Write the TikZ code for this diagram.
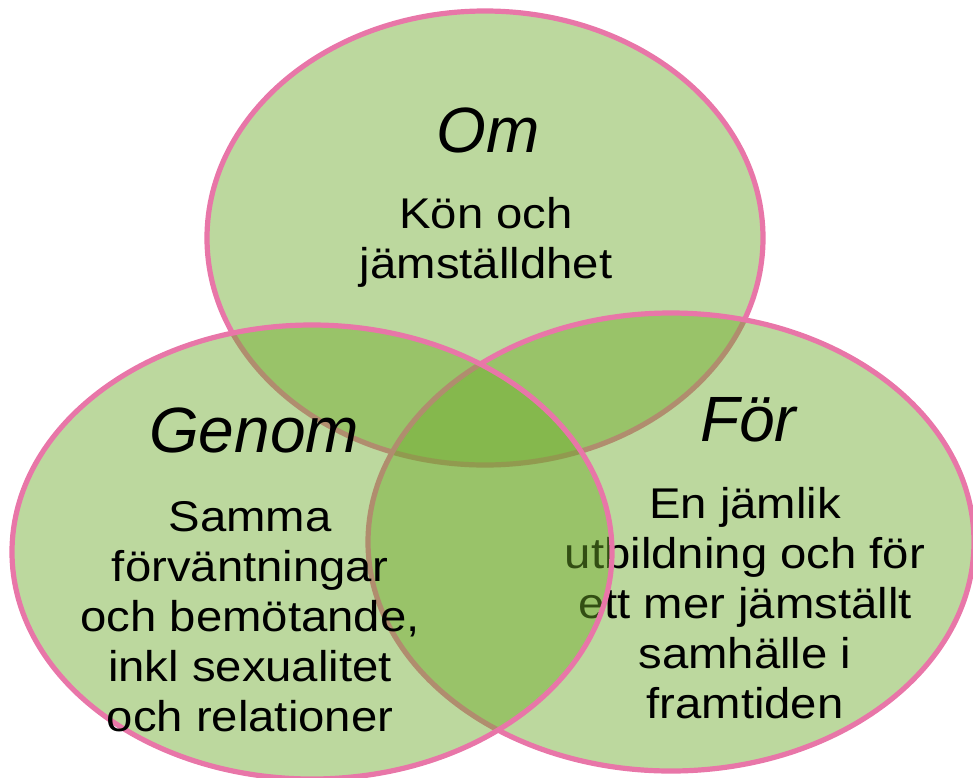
\documentclass[tikz,border=0pt]{standalone}
\usepackage{fontspec}
\setmainfont{Liberation Sans}
\newfontfamily\bodyfont[FakeStretch=1.1]{Liberation Sans}
\usetikzlibrary{shapes.geometric}
\usetikzlibrary{positioning}
\definecolor{vennfill}{RGB}{110,170,43}
\definecolor{vennline}{RGB}{232,118,168}
\tikzset{
  set/.style={ellipse, draw=vennline, line width=2.6pt, fill=vennfill,
    fill opacity=0.46, draw opacity=1, inner sep=0pt},
  title/.style={font=\fontsize{32}{36}\selectfont\itshape, inner sep=0pt},
  body/.style={font=\bodyfont\fontsize{21.5}{25}\selectfont, align=center, inner sep=0pt},
}
\begin{document}
\begin{tikzpicture}[x=0.5pt, y=-0.5pt]
  \useasboundingbox (0,0) rectangle (973,777);

  % top set
  \node (om) [set, minimum width=278pt, minimum height=227pt] at (485,238) {};
  \node (omtitle) [title] at (488,130) {Om};
  \node (omtext) [body] at (486,242) {Kön och\\jämställdhet};

  % right set
  \node (for) [set, minimum width=303pt, minimum height=229pt] at (671,542) {};
  \node (fortitle) [title] at (748,420) {För};
  \node (fortext) [body] at (745,603) {En jämlik\\utbildning och för\\ett mer jämställt\\samhälle i\\framtiden};

  % left set, drawn last
  \node (genom) [set, minimum width=300pt, minimum height=227pt] at (312,552) {};
  \node (genomtitle) [title] at (254,430) {Genom};
  \node (genomtext) [body] at (250,617) {Samma\\förväntningar\\och bemötande,\\inkl sexualitet\\och relationer};
\end{tikzpicture}
\end{document}
